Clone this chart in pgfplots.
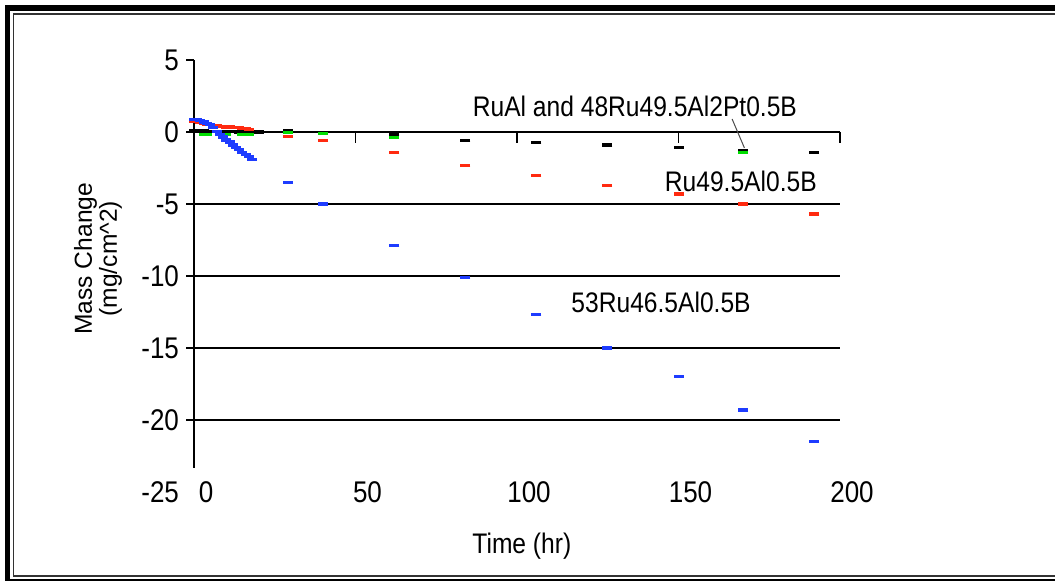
\documentclass[border=0pt]{standalone}
\usepackage{fontspec}
\setmainfont{Liberation Sans}
\usepackage{graphicx}
\usepackage{pgfplots}
\pgfplotsset{compat=1.18}
\definecolor{cBlue}{HTML}{1E3CFF}
\definecolor{cRed}{HTML}{FF2A10}
\definecolor{cGreen}{HTML}{00DD00}
\newcommand{\tall}[1]{\scalebox{1}[1.15]{#1}}

\begin{document}
\begin{tikzpicture}
  % page in image pixels: 1055 x 583 at 0.5pt per pixel
  \useasboundingbox (0,0) rectangle (527.5pt,291.5pt);
  \fill[white] (0,0) rectangle (527.5pt,291.5pt);
  \begin{scope}[x=0.5pt,y=-0.5pt,shift={(0,291.5pt)}]
    \fill[black] (5,5) rectangle (10,581);
    \fill[black] (5,5) rectangle (1055,11);
    \draw[line width=1pt] (5,580) -- (1055,580);
    \draw[black!80,line width=0.9pt] (1055,576) -- (13.5,576) -- (13.5,14) -- (1055,14);
  \end{scope}

  \begin{axis}[
      scale only axis,
      at={(97pt,45.5pt)}, anchor=south west,
      width=323pt, height=216pt,
      xmin=0, xmax=200, ymin=-25, ymax=5,
      xtick={0,50,100,150,200},
      ytick={5,0,-5,-10,-15,-20,-25},
      xticklabel={\tall{\pgfmathprintnumber{\tick}}},
      yticklabel={\tall{\pgfmathprintnumber{\tick}}},
      axis line style={draw=none},
      major tick length=0pt,
      clip=false,
      /pgf/number format/assume math mode=true,
      tick label style={font=\fontsize{13}{15}\selectfont},
      x tick label style={anchor=center, xshift=6pt},
      y tick label style={anchor=east, xshift=-4pt},
    ]
    % grid and axis lines
    \draw[line width=1pt] (axis cs:0,-5) -- (axis cs:200,-5);
    \draw[line width=1pt] (axis cs:0,-10) -- (axis cs:200,-10);
    \draw[line width=1pt] (axis cs:0,-15) -- (axis cs:200,-15);
    \draw[line width=1pt] (axis cs:0,-20) -- (axis cs:200,-20);
    \draw[line width=1pt] (axis cs:0,5) -- (axis cs:0,-23.3);
    \draw[line width=1.2pt] (axis cs:0,0) -- (axis cs:200,0);
    \draw[line width=0.8pt] (axis cs:0,5) -- ([xshift=-4pt]axis cs:0,5);
    \draw[line width=0.8pt] (axis cs:0,0) -- ([xshift=-4pt]axis cs:0,0);
    \draw[line width=0.8pt] (axis cs:0,-5) -- ([xshift=-4pt]axis cs:0,-5);
    \draw[line width=0.8pt] (axis cs:0,-10) -- ([xshift=-4pt]axis cs:0,-10);
    \draw[line width=0.8pt] (axis cs:0,-15) -- ([xshift=-4pt]axis cs:0,-15);
    \draw[line width=0.8pt] (axis cs:0,-20) -- ([xshift=-4pt]axis cs:0,-20);
    \draw[line width=0.8pt] (axis cs:50,0) -- ([yshift=-5.5pt]axis cs:50,0);
    \draw[line width=0.8pt] (axis cs:100,0) -- ([yshift=-5.5pt]axis cs:100,0);
    \draw[line width=0.8pt] (axis cs:150,0) -- ([yshift=-5.5pt]axis cs:150,0);
    \draw[line width=0.8pt] (axis cs:200,0) -- ([yshift=-5.5pt]axis cs:200,0);

    % RuAl
    \addplot[only marks, mark=-, mark size=2.5pt, mark options={line width=1.6pt, black}]
      coordinates {
        (0,0.1) (1,0.1) (2,0.1) (3,0.1) (4,0.05) (5,0.05) (6,0.05) (7,0.05)
        (8,0.05) (9,0.05) (10,0.05) (11,0.05) (12,0.05) (13,0.05) (14,0)
        (15,0) (16,0) (17,0) (18,0) (19,0) (20,0)
        (29,0.1) (40,-0.05) (62,-0.2) (84,-0.6) (106,-0.75) (128,-0.9)
        (150,-1.1) (170,-1.3) (192,-1.45)
      };
    % 48Ru49.5Al2Pt0.5B
    \addplot[only marks, mark=-, mark size=2.5pt, mark options={line width=1.6pt, cGreen}]
      coordinates {
        (3,-0.15) (4,-0.15) (9,-0.15) (10,-0.15) (15,-0.15) (16,-0.15) (17,-0.15)
        (29,-0.05) (40,-0.1) (62,-0.4) (170,-1.45)
      };
    % Ru49.5Al0.5B
    \addplot[only marks, mark=-, mark size=2.5pt, mark options={line width=1.6pt, cRed}]
      coordinates {
        (0,0.75) (1,0.75) (2,0.65) (3,0.6) (4,0.55) (5,0.5) (6,0.45) (7,0.45)
        (8,0.4) (9,0.4) (10,0.35) (11,0.35) (12,0.3) (13,0.3) (14,0.3)
        (15,0.25) (16,0.25) (17,0.2)
        (29,-0.3) (40,-0.6) (62,-1.45) (84,-2.3) (106,-3.0) (128,-3.7)
        (150,-4.3) (170,-5.0) (192,-5.7)
      };
    % 53Ru46.5Al0.5B
    \addplot[only marks, mark=-, mark size=2.5pt, mark options={line width=1.6pt, cBlue}]
      coordinates {
        (0,0.85) (1,0.85) (2,0.8) (3,0.7) (4,0.6) (5,0.5) (6,0.3) (7,0.05)
        (8,-0.15) (9,-0.35) (10,-0.55) (11,-0.7) (12,-0.9) (13,-1.05)
        (14,-1.2) (15,-1.4) (16,-1.55) (17,-1.7) (18,-1.9)
        (29,-3.5) (40,-5.0) (62,-7.9) (84,-10.1) (106,-12.7) (128,-15.0)
        (150,-17.0) (170,-19.3) (192,-21.5)
      };

    % annotations
    \draw[black!70, line width=0.5pt] (axis cs:166.6,0.9) -- (axis cs:170.4,-1.1);
    \node[font=\fontsize{12.3}{14}\selectfont] at (axis cs:136.5,1.75) {\tall{RuAl and 48Ru49.5Al2Pt0.5B}};
    \node[font=\fontsize{12.3}{14}\selectfont] at (axis cs:169.3,-3.4) {\tall{Ru49.5Al0.5B}};
    \node[font=\fontsize{12.3}{14}\selectfont] at (axis cs:144.6,-11.8) {\tall{53Ru46.5Al0.5B}};

    % axis titles
    \node[font=\fontsize{12.3}{14}\selectfont] at (axis cs:101.5,-28.75) {\tall{Time (hr)}};
    \node[font=\fontsize{12.3}{12.5}\selectfont, rotate=90, align=center]
      at (axis cs:-29.7,-8.8) {Mass Change\\(mg/cm\textasciicircum 2)};
  \end{axis}
\end{tikzpicture}
\end{document}
